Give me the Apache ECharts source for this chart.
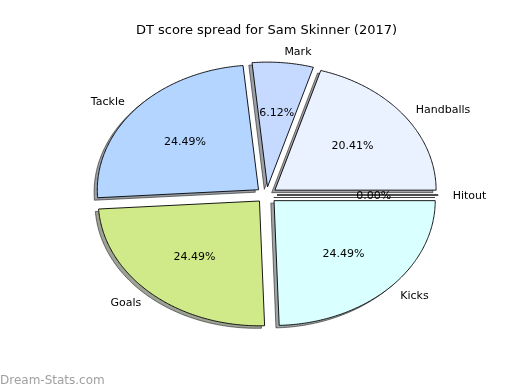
<!DOCTYPE html>
<html><head><meta charset="utf-8">
<script src="https://cdn.jsdelivr.net/npm/echarts@6/dist/echarts.min.js"></script>
<style>html,body{margin:0;padding:0;background:#fff}#c{width:520px;height:390px}</style>
</head><body><div id="c"></div>
<script>
const categories = ['Handballs', 'Mark', 'Tackle', 'Goals', 'Kicks', 'Hitout'];
const values = [10, 3, 12, 12, 12, 0];
const sliceColors = ['#eaf1ff', '#c6daff', '#b3d5ff', '#d0ea8a', '#d9ffff', '#ffffff'];
const titleText = 'DT score spread for Sam Skinner (2017)';
const watermarkText = 'Dream-Stats.com';

const EXPLODE = 0.065;
const LABEL_DIST = 1.09;
const PCT_DIST = 0.6;
const SHADOW_OFF = -0.02;
const FONT = '"DejaVu Sans", sans-serif';

const total = values.reduce((a, b) => a + b, 0);
const starts = [];
let acc = 0;
values.forEach(v => { starts.push(acc); acc += v; });

function darken(hex, f) {
  const n = parseInt(hex.slice(1), 16);
  const r = Math.round(((n >> 16) & 255) * f), g = Math.round(((n >> 8) & 255) * f), b = Math.round((n & 255) * f);
  return 'rgb(' + r + ',' + g + ',' + b + ')';
}

function renderItem(params, api) {
  const i = params.dataIndex;
  const t1 = 2 * Math.PI * starts[i] / total;
  const t2 = 2 * Math.PI * (starts[i] + values[i]) / total;
  const mid = (t1 + t2) / 2;
  const ox = EXPLODE * Math.cos(mid), oy = EXPLODE * Math.sin(mid);
  const pts = [[ox, oy]];
  const N = Math.max(2, Math.ceil((t2 - t1) / 0.01));
  for (let k = 0; k <= N; k++) {
    const a = t1 + (t2 - t1) * k / N;
    pts.push([ox + Math.cos(a), oy + Math.sin(a)]);
  }
  const wedge = pts.map(p => api.coord(p));
  const shadow = pts.map(p => api.coord([p[0] + SHADOW_OFF, p[1] + SHADOW_OFF]));
  const c = Math.cos(mid), s = Math.sin(mid);
  const lp = api.coord([ox + LABEL_DIST * c, oy + LABEL_DIST * s]);
  const pp = api.coord([ox + PCT_DIST * c, oy + PCT_DIST * s]);
  const pct = (100 * values[i] / total).toFixed(2) + '%';
  return {
    type: 'group',
    children: [
      { type: 'polygon', shape: { points: shadow },
        style: { fill: darken(sliceColors[i], 0.3), stroke: '#000', lineWidth: 1, opacity: 0.5 } },
      { type: 'polygon', shape: { points: wedge },
        style: { fill: sliceColors[i], stroke: '#000', lineWidth: 0.9 } },
      { type: 'text', x: pp[0], y: pp[1] + 1,
        style: { text: pct, align: 'center', verticalAlign: 'middle', fill: '#000', font: '11px ' + FONT } },
      { type: 'text', x: lp[0], y: lp[1] + 1,
        style: { text: categories[i], align: c > 0 ? 'left' : 'right', verticalAlign: 'middle', fill: '#000', font: '11px ' + FONT } }
    ]
  };
}

const chart = echarts.init(document.getElementById('c'), null, { renderer: 'canvas' });
chart.setOption({
  animation: false,
  backgroundColor: '#fff',
  grid: { left: 65, right: 52, top: 39, bottom: 39 },
  xAxis: { type: 'value', min: -1.25, max: 1.25, show: false },
  yAxis: { type: 'value', min: -1.25, max: 1.25, show: false },
  graphic: [
    { type: 'text', x: 266.5, y: 31, style: { text: titleText, align: 'center', verticalAlign: 'middle', fill: '#000', font: '13px ' + FONT } },
    { type: 'text', x: 0, y: 381, style: { text: watermarkText, align: 'left', verticalAlign: 'middle', fill: '#a0a0a0', font: '12px ' + FONT } }
  ],
  series: [{
    type: 'custom',
    coordinateSystem: 'cartesian2d',
    renderItem: renderItem,
    clip: false,
    data: categories.map((name, i) => ({ name: name, value: [0, values[i]] }))
  }]
});
</script>
</body></html>
